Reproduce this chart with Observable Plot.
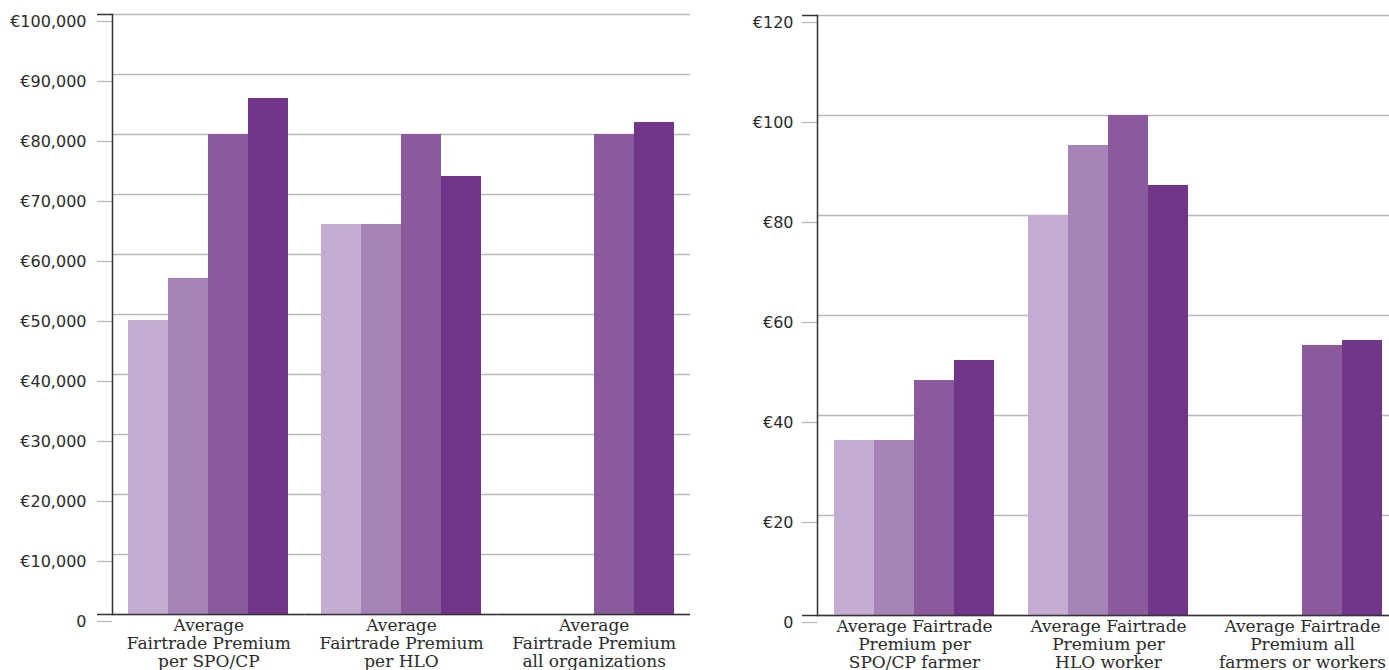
<!DOCTYPE html>
<html>
<head>
<meta charset="utf-8">
<script src="https://cdn.jsdelivr.net/npm/d3@7"></script>
<script src="https://cdn.jsdelivr.net/npm/@observablehq/plot@0.6"></script>
<style>
  html, body { margin: 0; padding: 0; background: #fff; overflow: hidden; }
  #charts { display: flex; width: 1400px; }
  #charts svg { display: block; flex: none; }
</style>
</head>
<body>
<div id="charts"></div>
<script>
// Four reporting periods, lightest to darkest
const seriesNames = ["Period 1", "Period 2", "Period 3", "Period 4"];
const seriesColors = ["#c4abd1", "#a683b6", "#8a5a9c", "#713589"];

// Left panel: average Fairtrade Premium per organization (€)
const orgCategories = ["SPO/CP", "HLO", "All organizations"];
const orgLabels = [
  "Average\nFairtrade Premium\nper SPO/CP",
  "Average\nFairtrade Premium\nper HLO",
  "Average\nFairtrade Premium\nall organizations"
];
const orgPeriod1 = [49000, 65000, null];
const orgPeriod2 = [56000, 65000, null];
const orgPeriod3 = [80000, 80000, 80000];
const orgPeriod4 = [86000, 73000, 82000];
const orgTicks = [0, 10000, 20000, 30000, 40000, 50000, 60000, 70000, 80000, 90000, 100000];

// Right panel: average Fairtrade Premium per farmer or worker (€)
const personCategories = ["SPO/CP farmer", "HLO worker", "All farmers or workers"];
const personLabels = [
  "Average Fairtrade\nPremium per\nSPO/CP farmer",
  "Average Fairtrade\nPremium per\nHLO worker",
  "Average Fairtrade\nPremium all\nfarmers or workers"
];
const personPeriod1 = [35, 80, null];
const personPeriod2 = [35, 94, null];
const personPeriod3 = [47, 100, 54];
const personPeriod4 = [51, 86, 55];
const personTicks = [0, 20, 40, 60, 80, 100, 120];

const euro = d => d === 0 ? "0" : "€" + d3.format(",")(d);

function groupedBars({width, marginLeft, marginRight, marginTop, marginBottom,
                      categories, labels, series, ticks, outer, tickPadding}) {
  const rows = [];
  categories.forEach((cat, i) => {
    series.forEach((values, s) => {
      if (values[i] != null) rows.push({cat, series: seriesNames[s], value: values[i]});
    });
  });
  const yMax = ticks[ticks.length - 1];
  return Plot.plot({
    width,
    height: 670,
    marginLeft, marginRight, marginTop, marginBottom,
    style: {fontFamily: "DejaVu Sans", fontSize: "16px", color: "#333", background: "#fff", overflow: "visible"},
    fx: {domain: categories, padding: 0, round: false, axis: null, label: null},
    x: {domain: seriesNames, paddingInner: 0, paddingOuter: outer, round: false, axis: null},
    y: {domain: [0, yMax], axis: null},
    color: {domain: seriesNames, range: seriesColors},
    marks: [
      // light horizontal grid, continued left of the axis as ticks
      Plot.gridY(ticks, {stroke: "#b8b8b8", strokeOpacity: 1, strokeWidth: 1.3}),
      Plot.axisY(ticks, {
        anchor: "left", tickSize: 15, tickPadding, stroke: "#b8b8b8", strokeWidth: 1.3,
        fill: "#2b2b2b", tickFormat: euro, dy: 7, fontSize: 16, label: null
      }),
      // dark caps at the top and bottom of the value axis
      Plot.axisY([0, yMax], {anchor: "left", tickSize: 15, stroke: "#333", strokeWidth: 1.5, tickFormat: () => "", label: null}),
      Plot.barY(rows, {fx: "cat", x: "series", y: "value", fill: "series", shapeRendering: "crispEdges"}),
      Plot.ruleY([0], {stroke: "#333", strokeWidth: 1.5}),
      Plot.frame({anchor: "left", facet: "super", stroke: "#333", strokeWidth: 1.5}),
      Plot.text(categories, {
        fx: d => d, text: (d, i) => labels[i], frameAnchor: "bottom", lineAnchor: "top",
        dy: 3, fontFamily: "DejaVu Serif", fontSize: 17, lineHeight: 1.08, fill: "#2b2b2b"
      })
    ]
  });
}

const host = document.getElementById("charts");
host.append(groupedBars({
  width: 700, marginLeft: 112, marginRight: 10, marginTop: 14, marginBottom: 56,
  categories: orgCategories, labels: orgLabels,
  series: [orgPeriod1, orgPeriod2, orgPeriod3, orgPeriod4],
  ticks: orgTicks, outer: 0.41, tickPadding: 11
}));
host.append(groupedBars({
  width: 700, marginLeft: 117, marginRight: 1, marginTop: 15, marginBottom: 55,
  categories: personCategories, labels: personLabels,
  series: [personPeriod1, personPeriod2, personPeriod3, personPeriod4],
  ticks: personTicks, outer: 0.425, tickPadding: 9
}));
</script>
</body>
</html>
